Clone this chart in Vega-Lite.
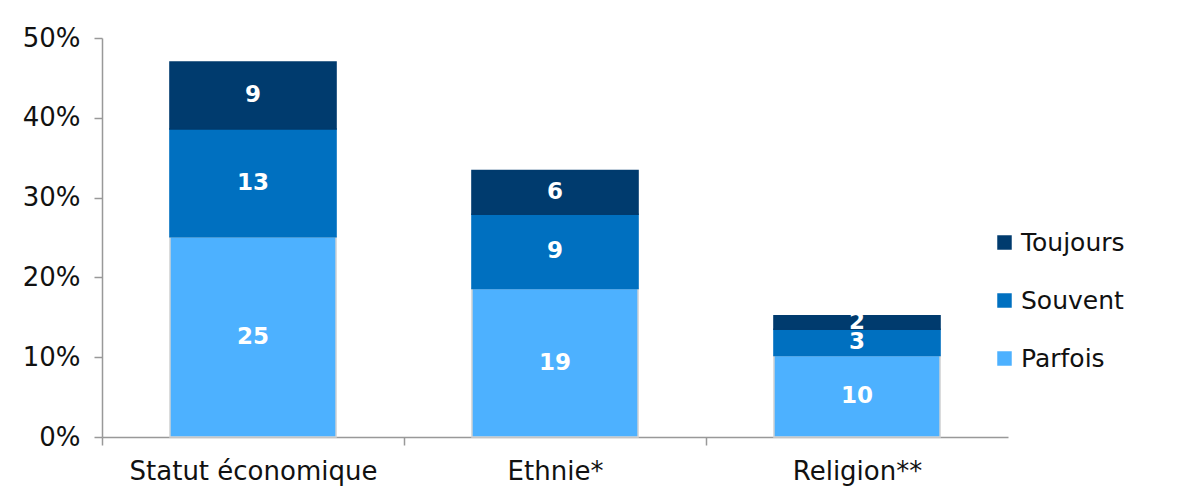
{
  "$schema": "https://vega.github.io/schema/vega-lite/v6.json",
  "autosize": "none",
  "width": 906,
  "height": 399,
  "padding": {"left": 102, "top": 38, "right": 192, "bottom": 60},
  "background": "white",
  "config": {
    "view": {"stroke": null},
    "font": "DejaVu Sans"
  },
  "data": {
    "values": [
      {"categorie": "Statut économique", "frequence": "Parfois", "ordre": 1, "valeur": 25.1, "etiquette": "25"},
      {"categorie": "Statut économique", "frequence": "Souvent", "ordre": 2, "valeur": 13.5, "etiquette": "13"},
      {"categorie": "Statut économique", "frequence": "Toujours", "ordre": 3, "valeur": 8.4, "etiquette": "9"},
      {"categorie": "Ethnie*", "frequence": "Parfois", "ordre": 1, "valeur": 18.6, "etiquette": "19"},
      {"categorie": "Ethnie*", "frequence": "Souvent", "ordre": 2, "valeur": 9.3, "etiquette": "9"},
      {"categorie": "Ethnie*", "frequence": "Toujours", "ordre": 3, "valeur": 5.5, "etiquette": "6"},
      {"categorie": "Religion**", "frequence": "Parfois", "ordre": 1, "valeur": 10.2, "etiquette": "10"},
      {"categorie": "Religion**", "frequence": "Souvent", "ordre": 2, "valeur": 3.3, "etiquette": "3"},
      {"categorie": "Religion**", "frequence": "Toujours", "ordre": 3, "valeur": 1.7, "etiquette": "2"}
    ]
  },
  "transform": [
    {"stack": "valeur", "groupby": ["categorie"], "sort": [{"field": "ordre", "order": "ascending"}], "as": ["v0", "v1"]},
    {"calculate": "(datum.v0 + datum.v1) / 2", "as": "vmid"}
  ],
  "encoding": {
    "x": {
      "field": "categorie",
      "type": "nominal",
      "sort": ["Statut économique", "Ethnie*", "Religion**"],
      "scale": {"paddingInner": 0.45, "paddingOuter": 0.225},
      "axis": {
        "title": null,
        "labelAngle": 0,
        "labelFontSize": 26,
        "labelLimit": 0,
        "labelColor": "#111111",
        "labelPadding": 13,
        "tickOffset": -151,
        "labelOffset": 151,
        "tickSize": 8,
        "tickColor": "#999999",
        "domainColor": "#999999",
        "domainWidth": 1.5,
        "tickWidth": 1.5
      }
    }
  },
  "layer": [
    {
      "mark": {"type": "bar", "strokeWidth": 1.5},
      "encoding": {
        "y": {
          "field": "v0",
          "type": "quantitative",
          "scale": {"domain": [0, 50]},
          "axis": {
            "title": null,
            "values": [0, 10, 20, 30, 40, 50],
            "labelExpr": "datum.value + '%'",
            "labelFontSize": 26,
            "labelColor": "#111111",
            "labelPadding": 14,
            "tickSize": 8,
            "tickColor": "#999999",
            "domainColor": "#999999",
            "domainWidth": 1.5,
            "tickWidth": 1.5,
            "grid": false
          }
        },
        "y2": {"field": "v1"},
        "color": {
          "field": "frequence",
          "type": "nominal",
          "scale": {"domain": ["Toujours", "Souvent", "Parfois"], "range": ["#003B6E", "#0070C0", "#4DB1FF"]},
          "legend": {
            "title": null,
            "orient": "none",
            "legendX": 890,
            "legendY": 192,
            "symbolType": "square",
            "symbolSize": 210,
            "symbolStrokeWidth": 0,
            "symbolOpacity": 1,
            "labelFontSize": 25,
            "labelColor": "#111111",
            "labelOffset": 4,
            "rowPadding": 32
          }
        },
        "stroke": {
          "field": "frequence",
          "type": "nominal",
          "scale": {"domain": ["Toujours", "Souvent", "Parfois"], "range": ["#003B6E", "#0070C0", "#D4D4D4"]},
          "legend": null
        }
      }
    },
    {
      "mark": {"type": "text", "color": "white", "fontWeight": "bold", "fontSize": 23, "baseline": "middle", "align": "center"},
      "encoding": {
        "y": {"field": "vmid", "type": "quantitative"},
        "text": {"field": "etiquette", "type": "nominal"}
      }
    }
  ]
}
